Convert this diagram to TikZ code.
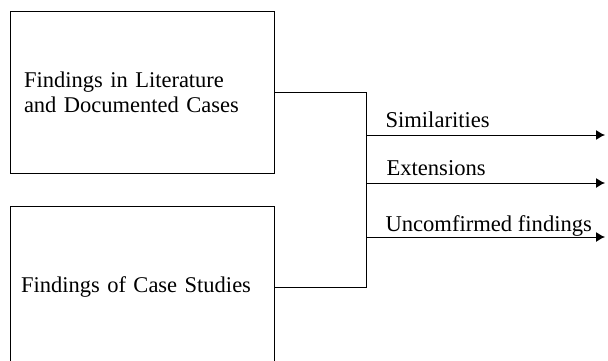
\documentclass[tikz,border=0pt]{standalone}
\usepackage{fontspec}
\setmainfont{Liberation Serif}
\usetikzlibrary{arrows.meta}
\begin{document}
\begin{tikzpicture}[x=1pt, y=-1pt, >={Latex[length=9pt,width=10pt]}, line width=1pt,
    findbox/.style={draw, minimum width=264pt, inner xsep=14pt, text width=236pt, align=left,
        font=\fontsize{22.5}{25.5}\selectfont},
    lbl/.style={anchor=base west, inner sep=0pt, font=\fontsize{22.6}{26}\selectfont}]
\useasboundingbox (0,0) rectangle (608,361);
\clip (0,0) rectangle (608,361);
\node[findbox, minimum height=161pt] (lit) at (142,92.5) {Findings in Literature\\and Documented Cases};
\node[findbox, minimum height=162pt, inner xsep=11pt, text width=242pt] (case) at (142,287) {Findings of Case Studies};
\coordinate (jn) at (366,190);
\coordinate (e1) at (605,135);
\coordinate (e2) at (605,183);
\coordinate (e3) at (605,237);
\draw (lit.east)--(lit.east -| jn)--(case.east -| jn)--(case.east);
\draw[->] (e1 -| jn)--(e1);
\draw[->] (e2 -| jn)--(e2);
\draw[->] (e3 -| jn)--(e3);
\node[lbl] (sim) at (385,128) {Similarities};
\node[lbl] (ext) at (386,175.5) {Extensions};
\node[lbl] (unc) at (385,231.5) {Uncomfirmed findings};
    \end{tikzpicture}
\end{document}
